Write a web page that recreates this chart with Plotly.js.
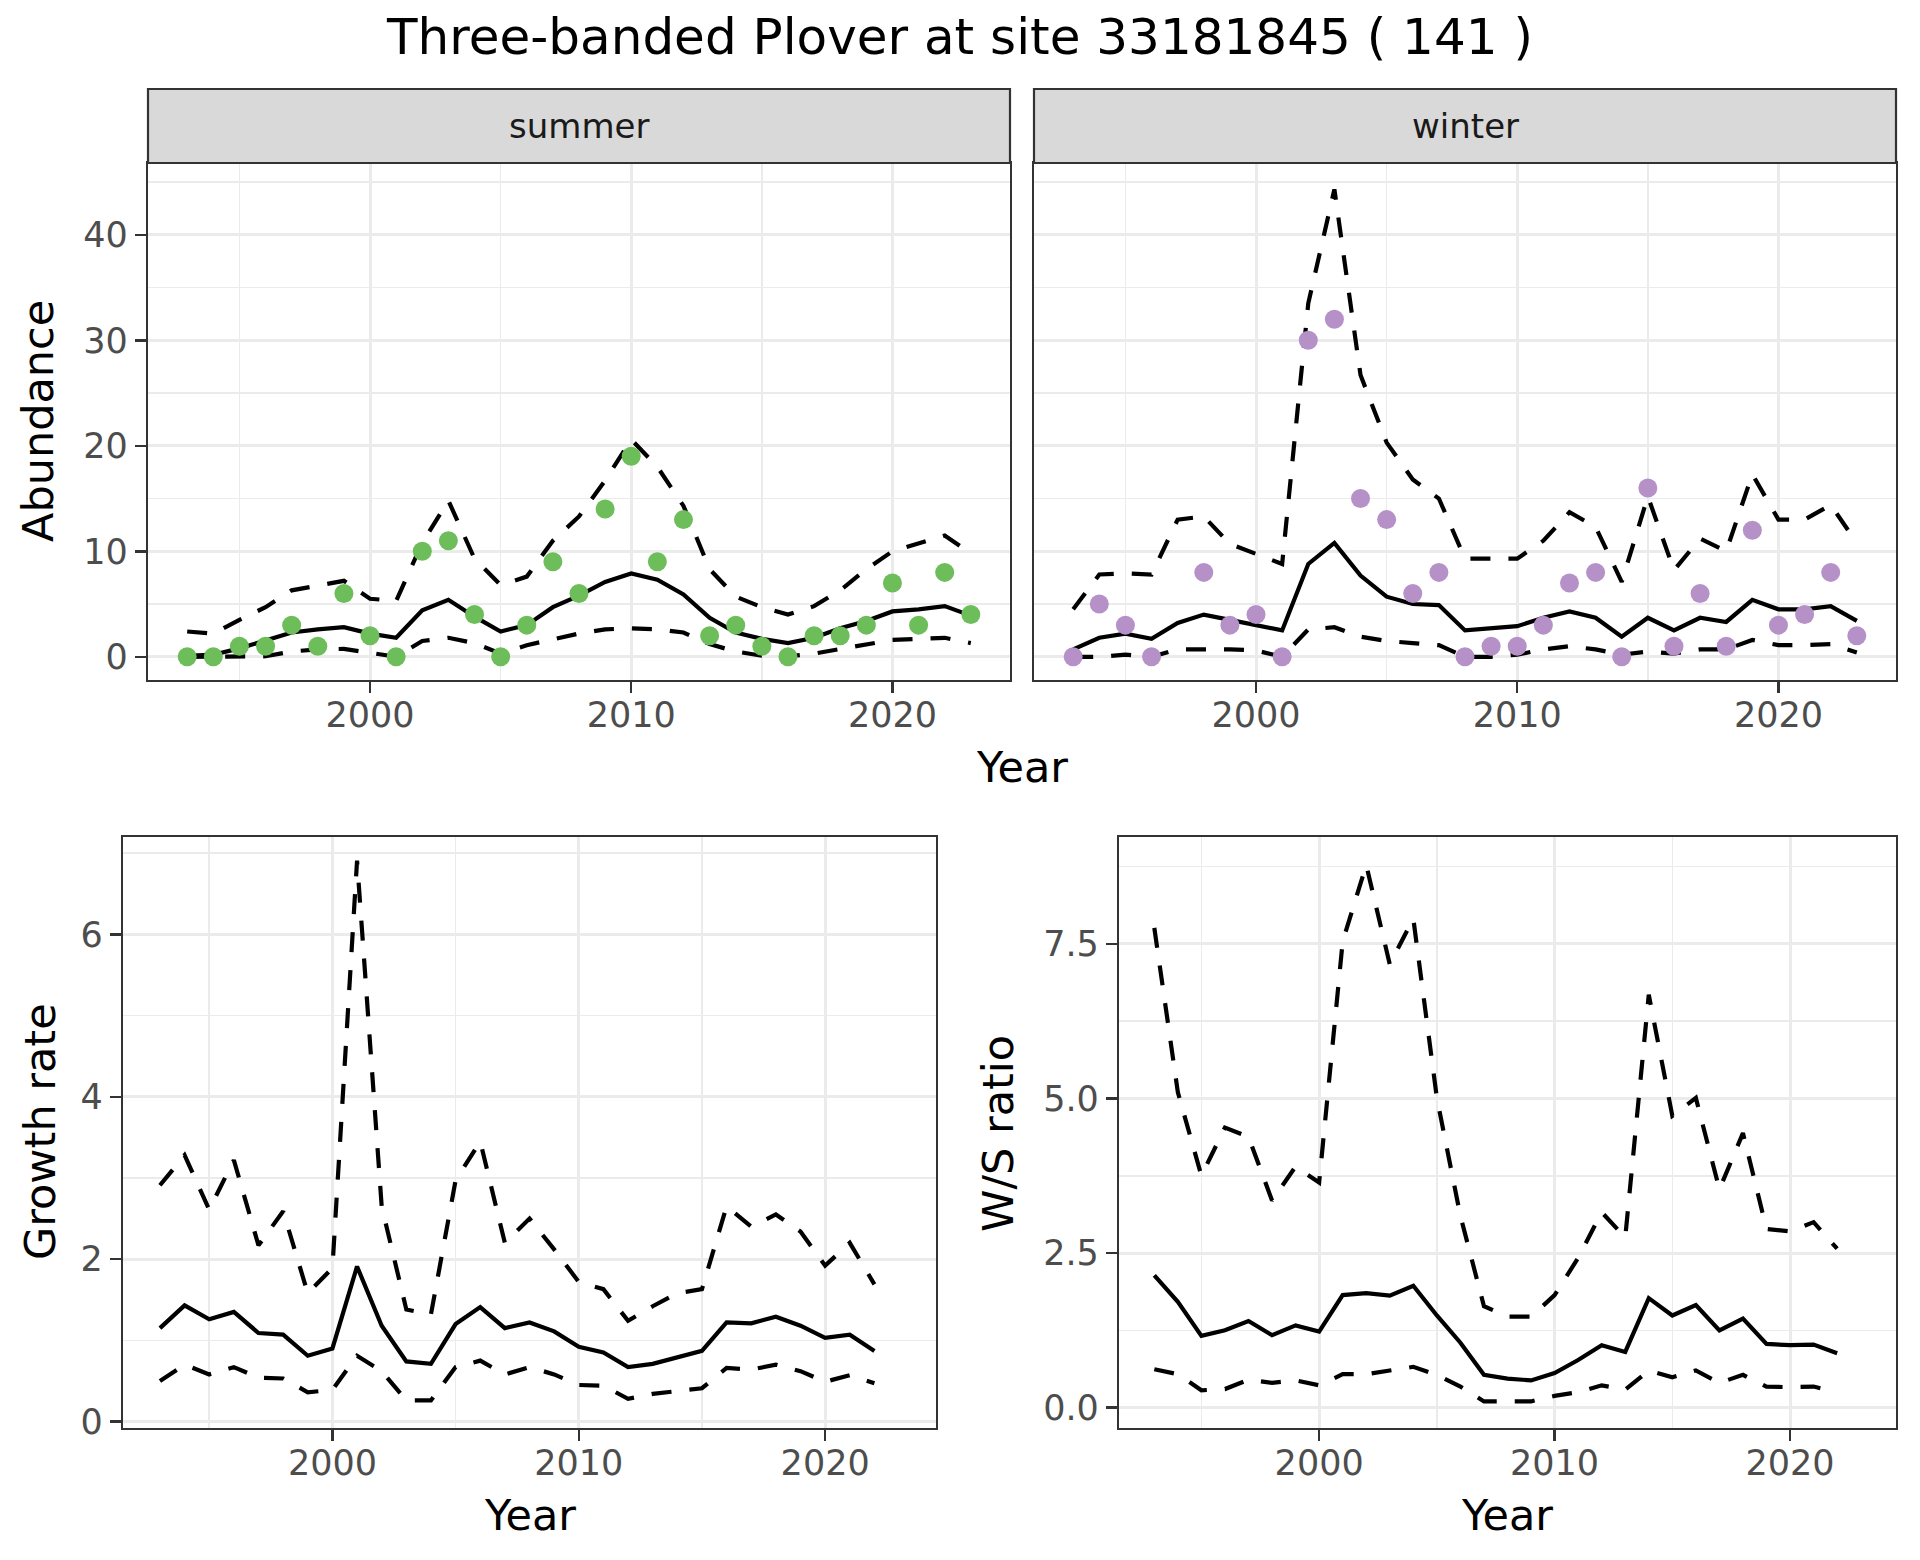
<!DOCTYPE html>
<html><head><meta charset="utf-8">
<script src="https://cdn.plot.ly/plotly-3.0.1.min.js"></script>
<style>html,body{margin:0;padding:0;background:#fff}#chart{width:1920px;height:1560px}</style>
</head><body><div id="chart"></div>
<script>
// ---- data ----
const yearsAbund = [1993,1994,1995,1996,1997,1998,1999,2000,2001,2002,2003,2004,2005,2006,2007,2008,2009,2010,2011,2012,2013,2014,2015,2016,2017,2018,2019,2020,2021,2022,2023];
const yearsRate  = [1993,1994,1995,1996,1997,1998,1999,2000,2001,2002,2003,2004,2005,2006,2007,2008,2009,2010,2011,2012,2013,2014,2015,2016,2017,2018,2019,2020,2021,2022];

const summerCount = [0,0,1,1,3,1,6,2,0,10,11,4,0,3,9,6,14,19,9,13,2,3,1,0,2,2,3,7,3,8,4];
const summerMean  = [0.1,0.2,0.8,1.5,2.3,2.6,2.8,2.2,1.8,4.4,5.4,3.8,2.4,3.0,4.7,5.8,7.1,7.9,7.3,5.9,3.7,2.3,1.7,1.3,1.8,2.7,3.4,4.3,4.5,4.8,3.9];
const summerUpper = [2.4,2.2,3.5,4.7,6.3,6.7,7.2,5.5,5.3,10.8,14.8,9.3,6.8,7.6,11,13.3,16.7,20.6,18,14.3,8.3,5.7,4.7,4.0,4.8,6.3,8.3,10,10.7,11.5,9.8];
const summerLower = [0,0,0,0.05,0.5,0.7,0.75,0.4,0,1.5,1.8,1.3,0.3,1.1,1.7,2.2,2.6,2.7,2.6,2.3,1.2,0.5,0.1,0.05,0.3,0.7,1.2,1.6,1.7,1.8,1.3];

const winterCount = [0,5,3,0,null,8,3,4,0,30,32,15,13,6,8,0,1,1,3,7,8,0,16,1,6,1,12,3,4,8,2];
const winterMean  = [0.7,1.8,2.2,1.7,3.2,4.0,3.5,3.0,2.5,8.8,10.8,7.7,5.7,5.0,4.9,2.5,2.7,2.9,3.7,4.3,3.7,1.9,3.7,2.5,3.7,3.3,5.4,4.5,4.5,4.8,3.4];
const winterUpper = [4.5,7.8,7.9,7.8,13.0,13.3,10.7,9.8,8.8,33.5,44.3,26.7,20.3,16.8,15.0,9.3,9.3,9.3,11,13.7,12.3,7.1,15.2,8.2,11.2,10,17.3,13,13,14.4,10.8];
const winterLower = [0,0,0.2,0,0.7,0.7,0.7,0.6,0,2.6,2.8,1.9,1.5,1.3,1.1,0,0,0.2,0.7,1.0,0.7,0.2,0.5,0.3,0.7,0.7,1.6,1.1,1.1,1.2,0.4];

const growthMean  = [1.15,1.43,1.26,1.35,1.09,1.07,0.81,0.9,1.91,1.18,0.74,0.71,1.2,1.41,1.15,1.22,1.11,0.92,0.85,0.67,0.71,0.79,0.87,1.22,1.21,1.29,1.18,1.03,1.07,0.87];
const growthUpper = [2.91,3.28,2.61,3.22,2.17,2.59,1.58,1.89,6.91,2.65,1.38,1.32,2.97,3.45,2.2,2.5,2.12,1.72,1.63,1.24,1.42,1.58,1.63,2.65,2.4,2.55,2.34,1.92,2.2,1.69];
const growthLower = [0.5,0.7,0.58,0.67,0.54,0.53,0.36,0.39,0.81,0.62,0.26,0.26,0.67,0.75,0.58,0.67,0.58,0.45,0.44,0.28,0.34,0.37,0.41,0.66,0.64,0.7,0.62,0.49,0.57,0.47];

const ratioMean  = [2.14,1.71,1.16,1.25,1.40,1.17,1.33,1.23,1.82,1.85,1.81,1.97,1.49,1.05,0.53,0.47,0.44,0.56,0.77,1.01,0.9,1.77,1.49,1.66,1.25,1.44,1.03,1.01,1.02,0.88];
const ratioUpper = [7.76,5.1,3.75,4.53,4.38,3.35,3.9,3.64,7.54,8.78,7.17,7.91,5.01,3.1,1.64,1.47,1.47,1.82,2.42,3.16,2.75,6.68,4.72,5.01,3.53,4.44,2.89,2.85,3.0,2.57];
const ratioLower = [0.62,0.54,0.28,0.3,0.45,0.4,0.44,0.36,0.54,0.54,0.6,0.66,0.53,0.34,0.1,0.1,0.1,0.19,0.25,0.36,0.29,0.6,0.49,0.6,0.4,0.53,0.34,0.33,0.34,0.25];

const xTicks = [2000,2010,2020];
const titleText = "Three-banded Plover at site 33181845 ( 141 )";

// ---- styling ----
const W = 1920, H = 1560;
const FONT = "DejaVu Sans, Liberation Sans, sans-serif";
const px = x => x / W, py = y => 1 - y / H;
const GREEN = "#6DBD5A", PURPLE = "#B591C7";
const LW = 4.2, DASH = "20px,18px";

function lines(x, mean, up, lo, xa, ya) {
  return [
    {x: x, y: up, xaxis: xa, yaxis: ya, type: "scatter", mode: "lines", line: {color: "black", width: LW, dash: DASH}, hoverinfo: "skip"},
    {x: x, y: lo, xaxis: xa, yaxis: ya, type: "scatter", mode: "lines", line: {color: "black", width: LW, dash: DASH}, hoverinfo: "skip"},
    {x: x, y: mean, xaxis: xa, yaxis: ya, type: "scatter", mode: "lines", line: {color: "black", width: LW}, hoverinfo: "skip"}
  ];
}
function pts(x, y, color, xa, ya) {
  return {x: x, y: y, xaxis: xa, yaxis: ya, type: "scatter", mode: "markers", marker: {color: color, size: 19, line: {width: 0}}, hoverinfo: "skip"};
}

const traces = [].concat(
  lines(yearsAbund, summerMean, summerUpper, summerLower, "x", "y"),
  [pts(yearsAbund, summerCount, GREEN, "x", "y")],
  lines(yearsAbund, winterMean, winterUpper, winterLower, "x2", "y2"),
  [pts(yearsAbund, winterCount, PURPLE, "x2", "y2")],
  lines(yearsRate, growthMean, growthUpper, growthLower, "x3", "y3"),
  lines(yearsRate, ratioMean, ratioUpper, ratioLower, "x4", "y4")
);

function axis(extra) {
  return Object.assign({
    showline: true, mirror: true, linecolor: "#333333", linewidth: 2.2,
    ticks: "outside", ticklen: 11, tickwidth: 2.5, tickcolor: "#333333",
    showgrid: true, gridcolor: "#EBEBEB", gridwidth: 3, zeroline: false,
    tickfont: {family: FONT, size: 35, color: "#4D4D4D"}, fixedrange: true
  }, extra);
}
function xax(domain, anchor) {
  return axis({domain: domain, anchor: anchor, range: [1991.5, 2024.5], tickmode: "array", tickvals: xTicks,
    ticktext: xTicks.map(String), ticklabelstandoff: -8,
    minor: {tickmode: "array", tickvals: [1995, 2005, 2015], showgrid: true, gridcolor: "#EBEBEB", gridwidth: 1.5, ticks: ""}});
}
const topDom = [py(680), py(163)], botDom = [py(1428), py(837)];

const layout = {
  width: W, height: H, margin: {l: 0, r: 0, t: 0, b: 0},
  paper_bgcolor: "white", plot_bgcolor: "white", showlegend: false,
  title: {text: titleText, font: {family: FONT, size: 50, color: "black"}, x: 0.5, xanchor: "center", xref: "paper",
          y: py(36), yanchor: "middle", yref: "paper"},
  xaxis:  xax([px(148), px(1010)], "y"),
  xaxis2: xax([px(1034), px(1896)], "y2"),
  xaxis3: xax([px(123), px(936)], "y3"),
  xaxis4: xax([px(1119), px(1896)], "y4"),
  yaxis: axis({domain: topDom, anchor: "x", range: [-2.2, 46.8], tickmode: "linear", tick0: 0, dtick: 10,
    minor: {tickmode: "linear", tick0: 5, dtick: 10, showgrid: true, gridcolor: "#EBEBEB", gridwidth: 1.5, ticks: ""}}),
  yaxis2: axis({domain: topDom, anchor: "x2", range: [-2.2, 46.8], tickmode: "linear", tick0: 0, dtick: 10,
    showticklabels: false, ticks: "",
    minor: {tickmode: "linear", tick0: 5, dtick: 10, showgrid: true, gridcolor: "#EBEBEB", gridwidth: 1.5, ticks: ""}}),
  yaxis3: axis({domain: botDom, anchor: "x3", range: [-0.08, 7.2], tickmode: "linear", tick0: 0, dtick: 2,
    minor: {tickmode: "linear", tick0: 1, dtick: 2, showgrid: true, gridcolor: "#EBEBEB", gridwidth: 1.5, ticks: ""}}),
  yaxis4: axis({domain: botDom, anchor: "x4", range: [-0.33, 9.23], tickmode: "linear", tick0: 0, dtick: 2.5, tickformat: ".1f",
    minor: {tickmode: "linear", tick0: 1.25, dtick: 2.5, showgrid: true, gridcolor: "#EBEBEB", gridwidth: 1.5, ticks: ""}}),
  shapes: [
    {type: "rect", xref: "paper", yref: "paper", x0: px(148), x1: px(1010), y0: py(163), y1: py(89),
     fillcolor: "#D9D9D9", line: {color: "#333333", width: 2.2}},
    {type: "rect", xref: "paper", yref: "paper", x0: px(1034), x1: px(1896), y0: py(163), y1: py(89),
     fillcolor: "#D9D9D9", line: {color: "#333333", width: 2.2}}
  ],
  annotations: [
    {text: "summer", xref: "paper", yref: "paper", x: px(579), y: py(126), showarrow: false, xanchor: "center", yanchor: "middle",
     font: {family: FONT, size: 34, color: "#1A1A1A"}},
    {text: "winter", xref: "paper", yref: "paper", x: px(1465), y: py(126), showarrow: false, xanchor: "center", yanchor: "middle",
     font: {family: FONT, size: 34, color: "#1A1A1A"}},
    {text: "Abundance", xref: "paper", yref: "paper", x: px(38), y: py(421), showarrow: false, textangle: -90,
     xanchor: "center", yanchor: "middle", font: {family: FONT, size: 43, color: "black"}},
    {text: "Year", xref: "paper", yref: "paper", x: px(1022), y: py(767), showarrow: false,
     xanchor: "center", yanchor: "middle", font: {family: FONT, size: 43, color: "black"}},
    {text: "Growth rate", xref: "paper", yref: "paper", x: px(40), y: py(1132), showarrow: false, textangle: -90,
     xanchor: "center", yanchor: "middle", font: {family: FONT, size: 43, color: "black"}},
    {text: "Year", xref: "paper", yref: "paper", x: px(530), y: py(1515), showarrow: false,
     xanchor: "center", yanchor: "middle", font: {family: FONT, size: 43, color: "black"}},
    {text: "W/S ratio", xref: "paper", yref: "paper", x: px(998), y: py(1134), showarrow: false, textangle: -90,
     xanchor: "center", yanchor: "middle", font: {family: FONT, size: 43, color: "black"}},
    {text: "Year", xref: "paper", yref: "paper", x: px(1507), y: py(1515), showarrow: false,
     xanchor: "center", yanchor: "middle", font: {family: FONT, size: 43, color: "black"}}
  ]
};

Plotly.newPlot("chart", traces, layout, {staticPlot: true, displayModeBar: false});
</script>
</body></html>
